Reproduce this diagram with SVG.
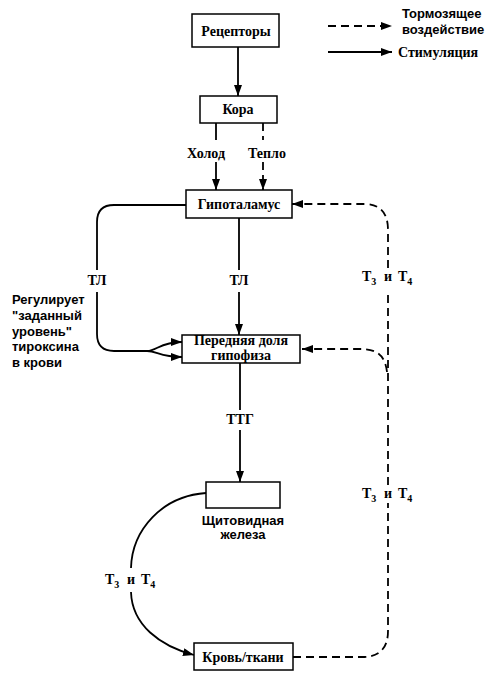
<svg xmlns="http://www.w3.org/2000/svg" width="498" height="696" viewBox="0 0 498 696">
<style>
.box{fill:#fff;stroke:#000;stroke-width:1.5}
.t{font-family:"Liberation Serif",serif;font-weight:bold;font-size:14px;fill:#000}
.s{font-family:"Liberation Sans",sans-serif;font-weight:bold;font-size:13px;fill:#000}
.ln{fill:none;stroke:#000;stroke-width:1.8}
.ds{fill:none;stroke:#000;stroke-width:1.8;stroke-dasharray:8 5}
</style>
<defs>
<marker id="ar" markerUnits="userSpaceOnUse" markerWidth="11" markerHeight="8" refX="11" refY="4" orient="auto">
<path d="M0,0 L11,4 L0,8 z" fill="#000"/>
</marker>
</defs>
<rect width="498" height="696" fill="#fff"/>
<g id="legend">
<path class="ds" d="M328,26 L392,26" marker-end="url(#ar)"/>
<path class="ln" d="M328,52 L392,52" marker-end="url(#ar)"/>
<text class="s" x="402" y="18">Тормозящее</text>
<text class="s" x="402" y="34">воздействие</text>
<text class="t" x="398" y="57">Стимуляция</text>
</g>
<g id="connectors">
<path class="ln" d="M238,47 L238,96" marker-end="url(#ar)"/>
<path class="ln" d="M216,123 L216,140"/>
<path class="ln" d="M216,162 L216,190" marker-end="url(#ar)"/>
<path class="ds" d="M263,123 L263,140"/>
<path class="ds" d="M263,162 L263,190" marker-end="url(#ar)"/>
<path class="ln" d="M239,218 L239,270"/>
<path class="ln" d="M239,292 L239,335" marker-end="url(#ar)"/>
<path class="ln" d="M186,205 L114,205 Q97,205 97,222 L97,270"/>
<path class="ln" d="M97,292 L97,334 Q97,351 114,351 L147,351"/>
<path class="ln" d="M147,351 C157,351 160,342 182,342" marker-end="url(#ar)"/>
<path class="ln" d="M147,351 C157,351 160,357 182,357" marker-end="url(#ar)"/>
<path class="ln" d="M240,363 L240,410"/>
<path class="ln" d="M240,430 L240,482" marker-end="url(#ar)"/>
<path class="ln" d="M206,493 C162,496 132,530 131,568"/>
<path class="ln" d="M131,592 C132,625 160,646 194,655" marker-end="url(#ar)"/>
<path class="ds" d="M293,657 L362,657 Q388,657 388,631 L388,503"/>
<path class="ds" d="M388,485 L388,290"/>
<path class="ds" d="M388,268 L388,230 Q388,204 364,204 L292,204" marker-end="url(#ar)"/>
<path class="ds" d="M387,372 C385,356 378,349 360,349 L302,349" marker-end="url(#ar)"/>
<path class="ln" d="M242,503 L242,508"/>
</g>
<g id="labels">
<text class="t" x="206" y="158" text-anchor="middle">Холод</text>
<text class="t" x="267" y="158" text-anchor="middle">Тепло</text>
<text class="t" x="239" y="285" text-anchor="middle">ТЛ</text>
<text class="t" x="97" y="285" text-anchor="middle">ТЛ</text>
<text class="t" x="240" y="424" text-anchor="middle">ТТГ</text>
<text class="t" x="362" y="281">Т<tspan font-size="10" dy="4">3</tspan></text>
<text class="t" x="388" y="281" text-anchor="middle">и</text>
<text class="t" x="398" y="281">Т<tspan font-size="10" dy="4">4</tspan></text>
<text class="t" x="362" y="498">Т<tspan font-size="10" dy="4">3</tspan></text>
<text class="t" x="388" y="498" text-anchor="middle">и</text>
<text class="t" x="398" y="498">Т<tspan font-size="10" dy="4">4</tspan></text>
<text class="t" x="105" y="584">Т<tspan font-size="10" dy="4">3</tspan></text>
<text class="t" x="131" y="584" text-anchor="middle">и</text>
<text class="t" x="141" y="584">Т<tspan font-size="10" dy="4">4</tspan></text>
<text class="s" x="12" y="304">Регулирует</text>
<text class="s" x="12" y="320">"заданный</text>
<text class="s" x="12" y="336">уровень"</text>
<text class="s" x="12" y="351">тироксина</text>
<text class="s" x="12" y="367">в крови</text>
</g>
<g id="receptors">
<rect class="box" x="192" y="14" width="87" height="33"/>
<text class="t" x="236" y="36" text-anchor="middle">Рецепторы</text>
</g>
<g id="cortex">
<rect class="box" x="200" y="96" width="77" height="27"/>
<text class="t" x="238" y="114" text-anchor="middle">Кора</text>
</g>
<g id="hypothalamus">
<rect class="box" x="186" y="190" width="106" height="28"/>
<text class="t" x="239" y="209" text-anchor="middle">Гипоталамус</text>
</g>
<g id="pituitary">
<rect class="box" x="182" y="335" width="118" height="28"/>
<text class="t" x="241" y="345" text-anchor="middle" font-size="12.5">Передняя доля</text>
<text class="t" x="241" y="359.5" text-anchor="middle" font-size="12.5">гипофиза</text>
</g>
<g id="thyroid">
<rect class="box" x="206" y="482" width="74" height="26"/>
<text class="s" x="243" y="525" text-anchor="middle">Щитовидная</text>
<text class="s" x="243" y="539" text-anchor="middle">железа</text>
</g>
<g id="blood">
<rect class="box" x="194" y="643" width="99" height="27"/>
<text class="t" x="243" y="662" text-anchor="middle">Кровь/ткани</text>
</g>
</svg>
